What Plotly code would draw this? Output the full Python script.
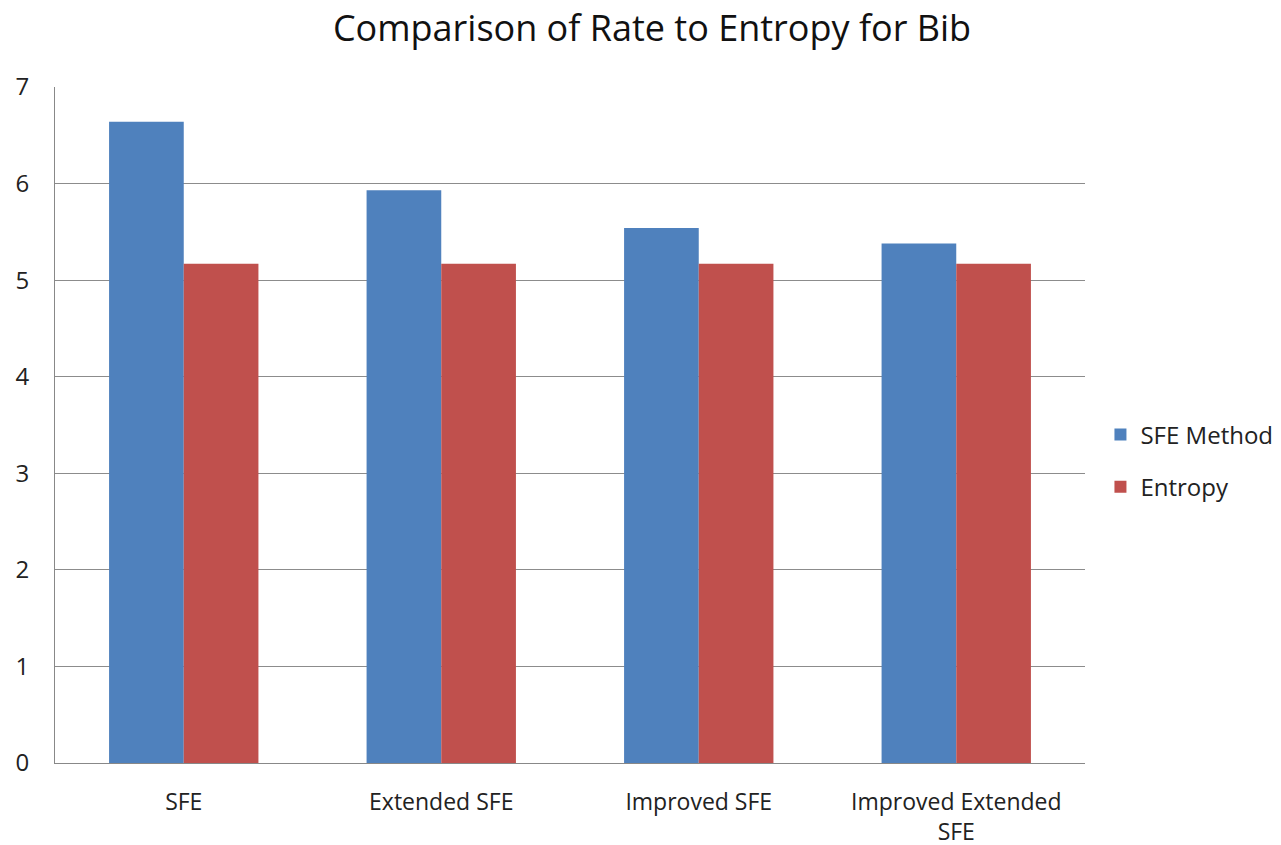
import plotly.graph_objects as go

categories = ["SFE", "Extended SFE", "Improved SFE", "Improved Extended<br>SFE"]
sfe_method = [6.64, 5.93, 5.54, 5.38]
entropy = [5.17, 5.17, 5.17, 5.17]
y_ticks = [0, 1, 2, 3, 4, 5, 6, 7]

FONT = "Open Sans, Noto Sans, sans-serif"

fig = go.Figure()
fig.add_trace(go.Bar(name="SFE Method", x=categories, y=sfe_method, legendgroup="a",
                     marker=dict(color="#4F81BD", line=dict(width=0))))
fig.add_trace(go.Bar(name="Entropy", x=categories, y=entropy, legendgroup="b",
                     marker=dict(color="#C0504D", line=dict(width=0))))

fig.update_layout(
    width=1281, height=845,
    margin=dict(l=55, r=196, t=87, b=82, autoexpand=False),
    paper_bgcolor="white", plot_bgcolor="white",
    barmode="group", bargap=0.42, bargroupgap=0,
    title=dict(text="Comparison of Rate to Entropy for Bib",
               font=dict(family=FONT, size=36, color="#111"),
               x=652 / 1281, xanchor="center", xref="container",
               y=0.966, yanchor="middle"),
    font=dict(family=FONT, color="#222"),
    legend=dict(x=1.015, xanchor="left", y=0.447, yanchor="middle",
                font=dict(size=24, color="#222"), tracegroupgap=18,
                itemwidth=30, traceorder="grouped"),
    showlegend=True,
)
fig.update_xaxes(showgrid=False, showline=True, linecolor="#888", linewidth=1,
                 tickfont=dict(size=23, color="#222"), ticks="", automargin=False,
                 ticklabelstandoff=18)
fig.update_yaxes(range=[0, 7], tickvals=y_ticks, showgrid=True, gridcolor="#8c8c8c",
                 gridwidth=1, showline=True, linecolor="#888", linewidth=1,
                 zeroline=False, tickfont=dict(size=24, color="#222"), automargin=False,
                 ticks="", ticklabelstandoff=20)

fig.write_html("out.html")
